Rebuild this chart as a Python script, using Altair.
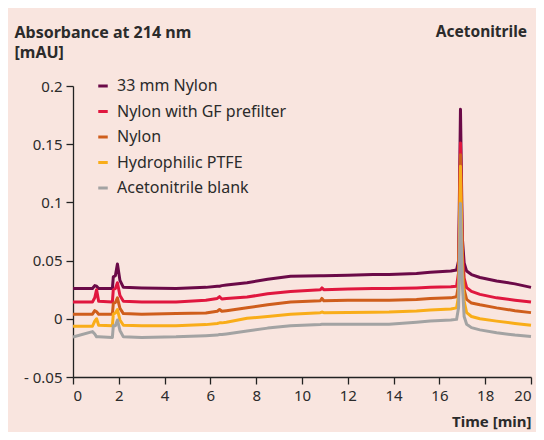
import altair as alt
import pandas as pd

# time points [min]
times = [0, 0.85, 0.95, 1.03, 1.12, 1.72, 1.76, 1.85, 1.94, 2.05, 2.2, 3, 4.5, 5.8, 6.3, 6.4, 6.5,
         6.7, 7.6, 8.5, 9.5, 10.8, 10.87, 10.95, 12, 13.1, 13.8, 15, 15.6, 16.5, 16.75, 16.84,
         16.92, 17.0, 17.08, 17.19, 17.4, 17.77, 18.5, 19.3, 20]

nylon33 = [0.026, 0.026, 0.0285, 0.028, 0.026, 0.026, 0.036, 0.037, 0.047, 0.033, 0.027, 0.0265,
           0.026, 0.027, 0.028, 0.028, 0.0285, 0.029, 0.031, 0.034, 0.0365, 0.037, 0.037, 0.037,
           0.0375, 0.038, 0.038, 0.039, 0.040, 0.041, 0.042, 0.050, 0.180, 0.070, 0.048, 0.041,
           0.038, 0.0355, 0.0325, 0.030, 0.027]
nylon_gf = [0.0145, 0.0145, 0.018, 0.025, 0.015, 0.0145, 0.025, 0.026, 0.031, 0.020, 0.015, 0.0145,
            0.0145, 0.016, 0.0175, 0.019, 0.017, 0.0175, 0.0187, 0.0215, 0.0235, 0.025, 0.0265,
            0.025, 0.0255, 0.026, 0.026, 0.0265, 0.027, 0.0275, 0.028, 0.040, 0.151, 0.060, 0.035,
            0.0268, 0.0235, 0.021, 0.018, 0.016, 0.0144]
nylon = [0.004, 0.004, 0.007, 0.006, 0.004, 0.004, 0.013, 0.014, 0.018, 0.009, 0.0045, 0.004,
         0.0045, 0.005, 0.0065, 0.008, 0.0065, 0.007, 0.0095, 0.012, 0.0145, 0.0155, 0.0175, 0.0155,
         0.016, 0.016, 0.016, 0.0165, 0.0175, 0.018, 0.019, 0.030, 0.141, 0.050, 0.025, 0.0167,
         0.0135, 0.012, 0.0094, 0.007, 0.0053]
ptfe = [-0.0064, -0.0064, -0.002, 0.0, -0.0055, -0.006, 0.004, 0.005, 0.008, -0.001, -0.0055,
        -0.006, -0.006, -0.005, -0.004, -0.0035, -0.0035, -0.003, 0.0004, 0.002, 0.004, 0.0052,
        0.0058, 0.0053, 0.0055, 0.0057, 0.0058, 0.0068, 0.0076, 0.0085, 0.0094, 0.020, 0.131,
        0.040, 0.015, 0.0053, 0.002, 0.0, -0.002, -0.004, -0.0056]
blank = [-0.0156, -0.011, -0.013, -0.0155, -0.0155, -0.016, -0.006, -0.006, -0.001, -0.010,
         -0.0155, -0.016, -0.0155, -0.0145, -0.014, -0.0135, -0.0135, -0.013, -0.0105, -0.008,
         -0.006, -0.0048, -0.0047, -0.0047, -0.0047, -0.0047, -0.0047, -0.003, -0.0019, -0.001,
         -0.0005, 0.010, 0.099, 0.030, 0.002, -0.0047, -0.0076, -0.0095, -0.012, -0.014, -0.0153]

series_names = ["33 mm Nylon", "Nylon with GF prefilter", "Nylon", "Hydrophilic PTFE",
                "Acetonitrile blank"]
series_values = [nylon33, nylon_gf, nylon, ptfe, blank]
colors = ["#6B0A48", "#E0173F", "#CF5E1C", "#F9AD19", "#A3A3A3"]

rows = []
for i, (name, vals) in enumerate(zip(series_names, series_values)):
    for t, v in zip(times, vals):
        rows.append({"series": name, "order": i, "time": t, "abs": v})
df = pd.DataFrame(rows)

FONT = "Noto Sans"
TXT = "#2b2b2b"
BG = "#F9E5DF"

lines = alt.Chart(df).mark_line(strokeWidth=3, strokeJoin="round").encode(
    x=alt.X("time:Q", scale=alt.Scale(domain=[0, 20], nice=False),
            axis=alt.Axis(values=list(range(0, 21, 2)), title="Time [min]",
                          titleX=458, titleY=49, titleAlign="right", titleAnchor="end",
                          titleBaseline="alphabetic", titleFontSize=15, titleFontWeight="bold",
                          titleColor=TXT, titleFont=FONT)),
    y=alt.Y("abs:Q", scale=alt.Scale(domain=[-0.05, 0.2], nice=False),
            axis=alt.Axis(values=[-0.05, 0, 0.05, 0.1, 0.15, 0.2],
                          labelExpr="datum.value < 0 ? '- ' + format(-datum.value, '~g') : format(datum.value, '~g')",
                          title=["Absorbance at 214 nm", "[mAU]"], titleAngle=0,
                          titleX=-59, titleY=-49, titleAlign="left", titleAnchor="start",
                          titleBaseline="alphabetic", titleLineHeight=20, titleFontSize=16,
                          titleFontWeight="bold", titleColor=TXT, titleFont=FONT)),
    color=alt.Color("series:N", scale=alt.Scale(domain=series_names, range=colors),
                    sort=series_names,
                    legend=alt.Legend(title=None, orient="none", legendX=22, legendY=-8,
                                      symbolType="stroke", symbolStrokeWidth=3, symbolSize=90,
                                      labelFontSize=16, labelFont=FONT, labelColor=TXT,
                                      labelLimit=400, rowPadding=9.5, labelOffset=6, padding=0)),
    order=alt.Order("order:Q"),
    detail="series:N",
)

label = alt.Chart(pd.DataFrame({"t": ["Acetonitrile"]})).mark_text(
    align="right", baseline="alphabetic", fontSize=15.5, fontWeight="bold", font=FONT, color=TXT
).encode(x=alt.value(454), y=alt.value(-49), text="t:N")

chart = alt.layer(lines, label).properties(
    width=458, height=291,
    background=BG,
    padding={"left": 65, "top": 78, "right": 5, "bottom": 55},
    autosize=alt.AutoSizeParams(type="none"),
).configure_view(stroke=None).configure_axis(
    grid=False, domainColor="#222", domainWidth=1.3, tickColor="#222", tickWidth=1.3,
    tickSize=7, labelFontSize=15, labelFont=FONT, labelColor=TXT, labelPadding=4
)

chart.save("out.html", embed_options={"renderer": "svg", "actions": False})
